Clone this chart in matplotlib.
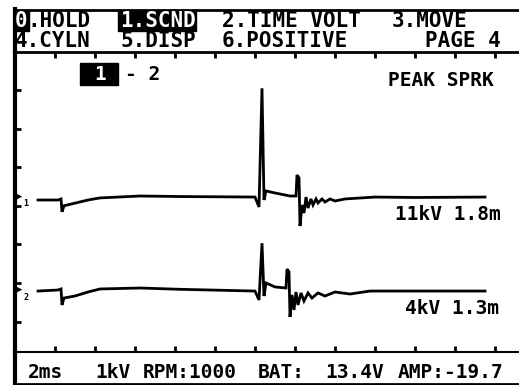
import matplotlib
matplotlib.use("Agg")
import matplotlib.pyplot as plt
from matplotlib.patches import Rectangle
from matplotlib.lines import Line2D
import numpy as np

# ---- secondary ignition traces (time in ms, voltage in kV) ----
cyl1_t = [1.15, 2.15, 2.30, 2.35, 2.45, 3.00, 3.65, 4.25, 6.25, 8.25, 12.00, 12.20,
          12.35, 12.45, 12.55, 13.00, 13.75, 14.05, 14.10, 14.20, 14.25, 14.35, 14.45,
          14.55, 14.65, 14.80, 14.90, 15.05, 15.15, 15.35, 15.50, 15.75, 16.00,
          16.50, 18.00, 20.00, 23.50]
cyl1_kv = [-1.84, -1.84, -1.72, -3.20, -2.50, -2.20, -1.84, -1.60, -1.38, -1.44, -1.50, -2.64,
           11.00, -1.84, -0.80, -1.03, -1.38, -1.38, 1.03, 0.70, -4.83, -2.41, -3.33,
           -1.50, -2.76, -1.72, -2.41, -1.72, -2.18, -1.72, -2.07, -1.72, -1.95,
           -1.72, -1.50, -1.55, -1.50]

cyl2_t = [1.15, 2.15, 2.30, 2.35, 2.45, 3.00, 3.65, 4.25, 6.25, 8.25, 12.00, 12.20,
          12.35, 12.45, 12.55, 13.00, 13.55, 13.60, 13.70, 13.75, 13.85, 13.95, 14.05,
          14.15, 14.30, 14.45, 14.65, 14.85, 15.15, 15.50, 16.00, 16.75, 17.75, 23.50]
cyl2_kv = [-1.50, -1.38, -1.26, -3.10, -2.30, -2.07, -1.61, -1.26, -1.15, -1.30, -1.50, -2.53,
           4.00, -2.07, -0.57, -1.03, -1.15, 1.03, 0.70, -4.48, -1.95, -3.68, -1.61,
           -3.10, -1.72, -2.64, -1.72, -2.30, -1.72, -2.07, -1.61, -1.84, -1.50, -1.50]

peak_labels = ["11kV 1.8m", "4kV 1.3m"]
menu_row1 = [("0.HOLD", 15), ("1.SCND", 120), ("2.TIME VOLT", 222), ("3.MOVE", 392)]
menu_row2 = [("4.CYLN", 15), ("5.DISP", 120), ("6.POSITIVE", 222), ("PAGE 4", 425)]
status_row = [("2ms", 28), ("1kV", 95), ("RPM:1000", 143), ("BAT:", 258),
              ("13.4V", 325), ("AMP:-19.7", 398)]

# ---- screen geometry ----
W, H = 519, 385
PX_PER_MS = 20.0        # 2 ms per 40 px division
PX_PER_KV = 8.7
X0 = 15                 # left edge of the trace area
Y_TOP, Y_BOT = 52, 352  # top / bottom of the trace area
ZERO1 = 184             # screen row of 0 kV for cylinder 1
ZERO2 = 278             # screen row of 0 kV for cylinder 2
offset2 = -(ZERO2 - ZERO1) / PX_PER_KV

fig = plt.figure(figsize=(W / 100, H / 100), dpi=100)
fig.patch.set_facecolor("white")

ax = fig.add_axes([X0 / W, (H - Y_BOT) / H, (W - X0) / W, (Y_BOT - Y_TOP) / H])
ax.set_xlim(0, (W - X0) / PX_PER_MS)
ax.set_ylim((ZERO1 - Y_BOT) / PX_PER_KV, (ZERO1 - Y_TOP) / PX_PER_KV)
ax.set_facecolor("white")

ax.plot(cyl1_t, cyl1_kv, color="black", lw=2.0, solid_joinstyle="miter")
ax.plot(cyl2_t, np.array(cyl2_kv) + offset2, color="black", lw=2.0, solid_joinstyle="miter")

# graticule ticks along the frame
div_kv = 38.5 / PX_PER_KV
yt = (ZERO1 - Y_TOP) / PX_PER_KV - div_kv * np.arange(1, 8)
ax.set_xticks(np.arange(2, 25, 2))
ax.set_yticks(yt)
ax.tick_params(direction="in", length=4, width=2, colors="black",
               top=True, bottom=True, left=True, right=False,
               labelbottom=False, labelleft=False)
for s in ("right",):
    ax.spines[s].set_visible(False)
ax.spines["left"].set_linewidth(3)
ax.spines["top"].set_linewidth(2)
ax.spines["bottom"].set_linewidth(1.5)

# overlay in screen pixels for menus and readouts
ov = fig.add_axes([0, 0, 1, 1], facecolor="none")
ov.set_xlim(0, W)
ov.set_ylim(H, 0)
ov.axis("off")

ov.add_line(Line2D([X0, W], [9.5, 9.5], color="black", lw=2))
ov.add_line(Line2D([X0, X0], [8.5, Y_TOP], color="black", lw=3))
ov.add_line(Line2D([X0, X0], [Y_BOT, H], color="black", lw=3))
ov.add_line(Line2D([X0, W], [384, 384], color="black", lw=2))

font = dict(family="DejaVu Sans Mono", fontweight="bold", fontsize=15, va="center", ha="left")
CH = 12.5

for txt, x in menu_row1:
    if txt.startswith("1."):
        ov.add_patch(Rectangle((x - 2, 11), len(txt) * CH + 3, 20, color="black"))
        ov.text(x, 21, txt, color="white", **font)
    elif txt.startswith("0."):
        ov.add_patch(Rectangle((x, 11), CH + 1, 20, color="black"))
        ov.text(x, 21, txt[0], color="white", **font)
        ov.text(x + CH, 21, txt[1:], color="black", **font)
    else:
        ov.text(x, 21, txt, color="black", **font)
for txt, x in menu_row2:
    ov.text(x, 41, txt, color="black", **font)

small = dict(font, fontsize=14)
for txt, x in status_row:
    ov.text(x, 373, txt, color="black", **small)

ov.text(388, 81, "PEAK SPRK", color="black", **small)
ov.text(395, 215, peak_labels[0], color="black", **small)
ov.text(405, 309, peak_labels[1], color="black", **small)

# cylinder selector
ov.add_patch(Rectangle((80, 63), 38, 22, color="black"))
ov.text(94, 74, "1", color="white", **small)
ov.text(125, 74, "- 2", color="black", **small)

# channel markers on the left edge
ov.text(16, 197, "\u25B8", color="black", family="DejaVu Sans", fontsize=9, va="center", ha="left")
ov.text(23, 204, "1", color="black", family="DejaVu Sans Mono", fontsize=6, fontweight="bold",
        va="center", ha="left")
ov.text(16, 290, "\u25B8", color="black", family="DejaVu Sans", fontsize=9, va="center", ha="left")
ov.text(23, 297, "2", color="black", family="DejaVu Sans Mono", fontsize=6, fontweight="bold",
        va="center", ha="left")

fig.savefig("out.png", dpi=100, facecolor="white")
